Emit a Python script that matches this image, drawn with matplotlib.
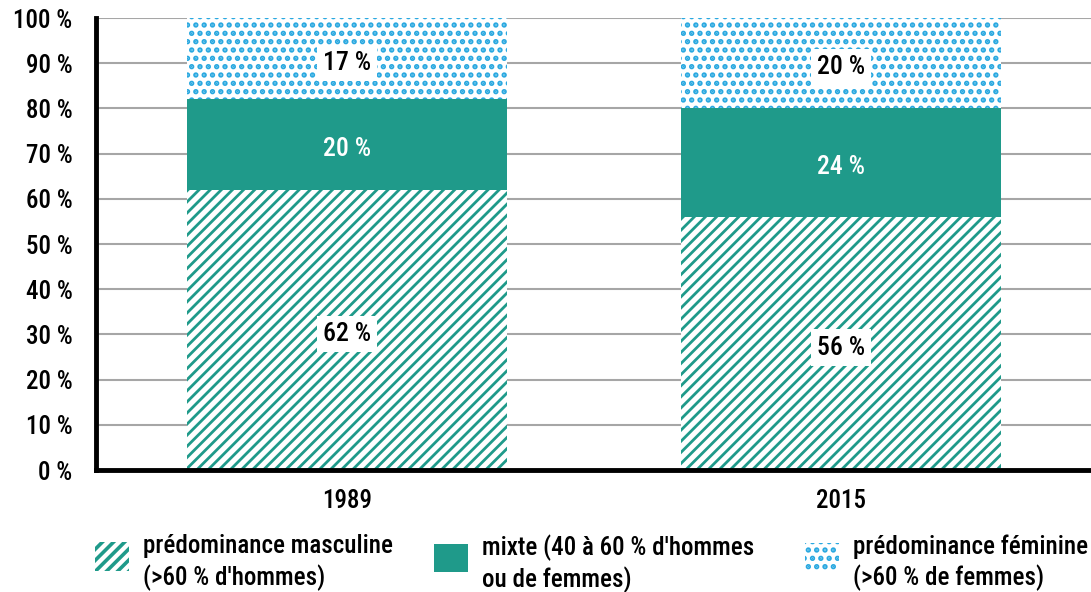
import matplotlib
matplotlib.use("Agg")
import matplotlib.pyplot as plt
from matplotlib.patches import Patch, Rectangle
from matplotlib.legend_handler import HandlerPatch

plt.rcParams["font.family"] = ["Roboto Condensed", "DejaVu Sans"]
plt.rcParams["font.weight"] = "medium"

# --- DATEN ---
jahre = ["1989", "2015"]
masculine = [62, 56]
mixte = [20, 24]
feminine = [18, 20]
labels_masc = ["62 %", "56 %"]
labels_mixte = ["20 %", "24 %"]
labels_fem = ["17 %", "20 %"]
yticks = [0, 10, 20, 30, 40, 50, 60, 70, 80, 90, 100]
legend_labels = [
    "prédominance masculine\n(>60 % d'hommes)",
    "mixte (40 à 60 % d'hommes\nou de femmes)",
    "prédominance féminine\n(>60 % de femmes)",
]

TEAL = "#1f9a8a"
BLUE = "#29a8e0"
FS = 18

fig = plt.figure(figsize=(10.91, 5.92), dpi=100)
ax = fig.add_axes([96 / 1091, 1 - 470 / 592, 1 - 96 / 1091, (470 - 18) / 592])

x = list(range(len(jahre)))
breite = 0.648

# Streifen (männlich)
plt.rcParams["hatch.linewidth"] = 2.0
ax.bar(x, masculine, breite, color="white", edgecolor=TEAL, hatch="///", linewidth=0, zorder=3)
h_masc = Patch(facecolor="white", edgecolor=TEAL, hatch="///", linewidth=0)
ax.bar(x, mixte, breite, bottom=masculine, color=TEAL, linewidth=0, zorder=3)
h_mixte = Patch(facecolor=TEAL, linewidth=0)
unten_fem = [m + n for m, n in zip(masculine, mixte)]
# Punkte (weiblich)
plt.rcParams["hatch.linewidth"] = 2.6
ax.bar(x, feminine, breite, bottom=unten_fem, color="white", edgecolor=BLUE, hatch="..", linewidth=0, zorder=3)
h_fem = Patch(facecolor="white", edgecolor=BLUE, hatch="..", linewidth=0)

box = dict(facecolor="white", edgecolor="none", pad=4.5)
kw = dict(ha="center", va="center", fontsize=FS + 0.5, textcoords="offset points", xytext=(0, -3), zorder=5)
for i in x:
    ax.annotate(labels_masc[i], (i, masculine[i] / 2), color="black", bbox=box, **kw)
    ax.annotate(labels_mixte[i], (i, masculine[i] + mixte[i] / 2), color="white", **kw)
    ax.annotate(labels_fem[i], (i, unten_fem[i] + feminine[i] / 2), color="black", bbox=box, **kw)

ax.set_xlim(-0.508, 1.506)
ax.set_ylim(0, 100)
ax.set_yticks(yticks)
ax.set_yticklabels([f"{t} %" for t in yticks], fontsize=FS)
ax.set_xticks(x)
ax.set_xticklabels(jahre, fontsize=FS)
ax.tick_params(axis="y", length=0, pad=17)
ax.tick_params(axis="x", length=0, pad=14)
ax.grid(axis="y", color="#a6a6a6", linewidth=1.5, zorder=0)
for s in ["top", "right"]:
    ax.spines[s].set_visible(False)
ax.spines["left"].set_linewidth(3.5)
ax.spines["bottom"].set_linewidth(3.5)
ax.spines["left"].set_zorder(4)
ax.spines["bottom"].set_zorder(4)


# Legendenkästchen etwas nach oben schieben
def kaestchen(legend, orig_handle, xdescent, ydescent, width, height, fontsize):
    return Rectangle((-xdescent, -ydescent + 5), width, height)


# drei einzelne Legenden, damit die Spalten an festen Stellen stehen
for h, lab, xpos in zip([h_masc, h_mixte, h_fem], legend_labels, [95, 434, 805]):
    leg = fig.legend(
        [h],
        [lab],
        loc="upper left",
        bbox_to_anchor=(xpos / 1091, 1 - 534 / 592),
        frameon=False,
        fontsize=FS,
        handlelength=1.36,
        handleheight=1.36,
        handletextpad=0.56,
        borderpad=0,
        borderaxespad=0,
        handler_map={Patch: HandlerPatch(patch_func=kaestchen)},
    )
    for t in leg.get_texts():
        t.set_linespacing(1.3)

fig.savefig("out.png", dpi=100)
